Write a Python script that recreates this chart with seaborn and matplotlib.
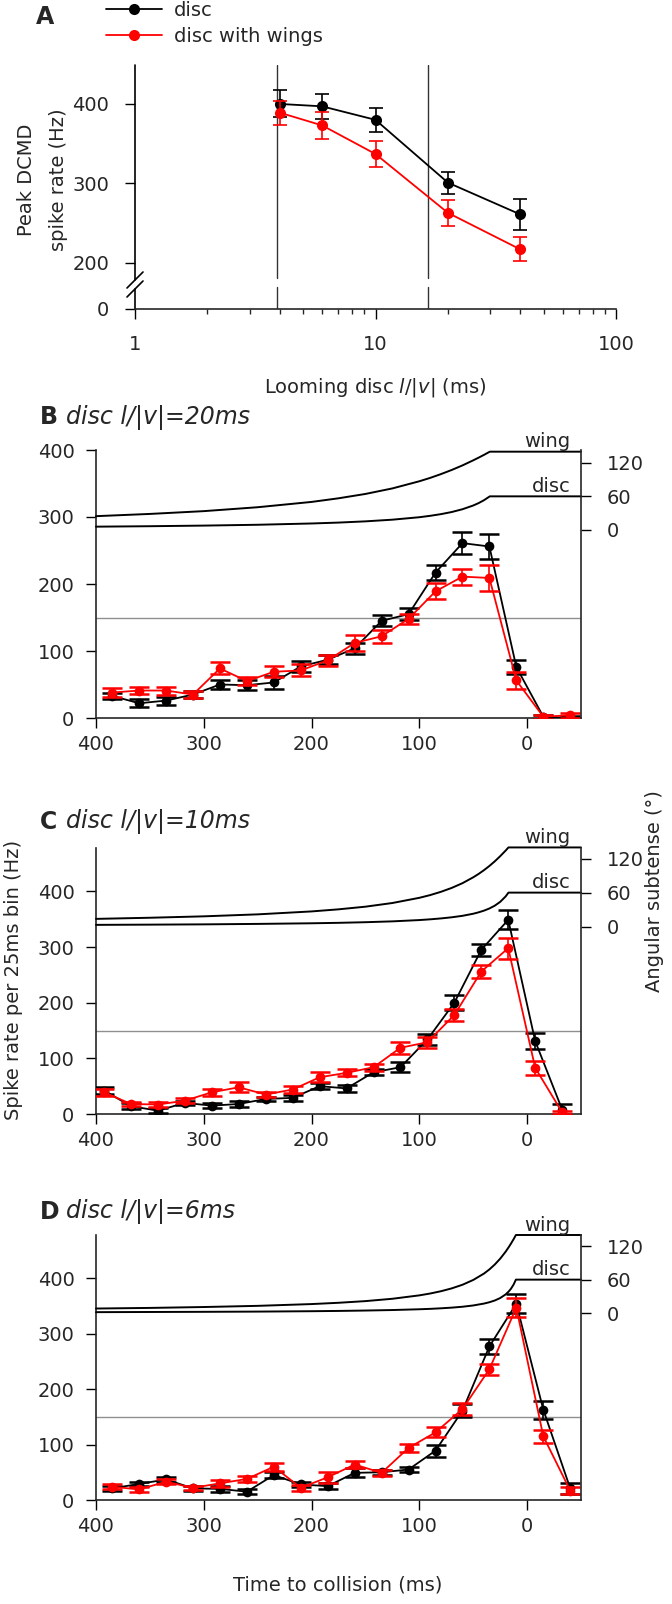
import numpy as np
import pandas as pd
import matplotlib
matplotlib.use("Agg")
import matplotlib.pyplot as plt
import seaborn as sns
from matplotlib.lines import Line2D
from matplotlib.ticker import LogLocator, NullFormatter

sns.set_style("ticks")
plt.rcParams["font.family"] = ["DejaVu Sans"]
plt.rcParams["mathtext.fontset"] = "dejavusans"

BLACK = "#000000"
RED = "#ff0000"

# ---------------- Panel A data ----------------
lv_ms = [4, 6, 10, 20, 40]
peak_disc = [400, 397, 380, 301, 261]
peak_disc_err = [17, 16, 15, 14, 20]
peak_wing = [389, 373, 337, 263, 217]
peak_wing_err = [15, 17, 16, 16, 15]
a_vlines = [3.9, 16.5]
a_yticks = [0, 200, 300, 400]

# ---------------- Panel B (l/|v| = 20 ms) ----------------
t_B = [385, 360, 335, 310, 285, 260, 235, 210, 185, 160, 135, 110, 85, 60, 35, 10, -15, -40]
disc_B = [33, 22, 26, 35, 50, 49, 53, 77, 87, 104, 145, 155, 217, 261, 256, 76, 2, 0]
disc_B_err = [5, 6, 6, 5, 7, 7, 9, 8, 7, 8, 8, 9, 11, 16, 19, 11, 3, 3]
wing_B = [38, 41, 41, 35, 74, 55, 69, 71, 86, 112, 122, 148, 189, 211, 209, 56, 2, 4]
wing_B_err = [7, 5, 6, 5, 9, 6, 8, 9, 8, 12, 10, 7, 12, 12, 20, 13, 3, 4]

# ---------------- Panel C (l/|v| = 10 ms) ----------------
t_C = [392.5, 367.5, 342.5, 317.5, 292.5, 267.5, 242.5, 217.5, 192.5, 167.5,
       142.5, 117.5, 92.5, 67.5, 42.5, 17.5, -7.5, -32.5]
disc_C = [42, 14, 6, 20, 15, 18, 27, 29, 50, 46, 75, 84, 134, 200, 295, 349, 131, 8]
disc_C_err = [6, 5, 5, 4, 4, 6, 4, 5, 5, 6, 5, 9, 10, 14, 11, 17, 14, 10]
wing_C = [39, 18, 17, 24, 39, 48, 35, 44, 66, 74, 84, 119, 129, 178, 256, 298, 83, 3]
wing_C_err = [6, 4, 5, 5, 6, 9, 5, 6, 9, 6, 6, 11, 10, 10, 12, 19, 13, 3]

# ---------------- Panel D (l/|v| = 6 ms) ----------------
t_D = [385, 360, 335, 310, 285, 260, 235, 210, 185, 160, 135, 110, 85, 60, 35, 10, -15, -40]
disc_D = [21, 29, 37, 21, 20, 15, 45, 28, 25, 49, 50, 55, 89, 161, 277, 354, 163, 21]
disc_D_err = [4, 3, 4, 4, 6, 5, 5, 4, 6, 8, 5, 4, 11, 12, 13, 17, 16, 10]
wing_D = [24, 19, 33, 22, 30, 38, 60, 22, 41, 64, 49, 94, 122, 164, 236, 347, 115, 17]
wing_D_err = [5, 5, 5, 4, 6, 6, 7, 5, 10, 6, 5, 7, 9, 11, 10, 17, 12, 7]

# ---------------- Angular subtense traces (deg) ----------------
ang_t_B = [400, 350, 300, 250, 200, 175, 150, 125, 100, 90, 80, 70, 60, 50, 45, 40, 34.6, -50]
ang_disc_B = [5.7, 6.5, 7.6, 9.1, 11.4, 13.0, 15.2, 18.2, 22.6, 25.1, 28.1, 31.9, 36.9, 43.6, 47.9, 53.1, 60, 60]
ang_wing_B = [24.5, 28.5, 33.5, 40.5, 50.0, 56.5, 64.3, 74.2, 87.0, 93.0, 99.8, 107.2, 115.4, 124.5, 129.3, 134.3, 140, 140]

ang_t_C = [400, 350, 300, 250, 200, 175, 150, 125, 100, 90, 80, 70, 60, 50, 45, 40, 35, 30, 25, 20, 17.3, -50]
ang_disc_C = [2.9, 3.3, 3.8, 4.6, 5.7, 6.5, 7.6, 9.1, 11.4, 12.7, 14.3, 16.3, 18.9, 22.6, 25.1, 28.1, 31.9, 36.9, 43.6, 53.1, 60, 60]
ang_wing_C = [13.5, 15.5, 18.0, 21.5, 26.7, 30.4, 35.1, 41.6, 50.8, 55.6, 61.4, 68.3, 76.7, 87.1, 93.1, 99.8, 107.2, 115.4, 124.5, 134.3, 140, 140]

ang_t_D = [400, 350, 300, 250, 200, 175, 150, 125, 100, 90, 80, 70, 60, 50, 40, 35, 30, 25, 20, 17, 15, 12.5, 10.4, -50]
ang_disc_D = [1.7, 2.0, 2.3, 2.7, 3.4, 3.9, 4.6, 5.5, 6.9, 7.6, 8.6, 9.8, 11.4, 13.7, 17.1, 19.5, 22.6, 27.0, 33.4, 38.9, 43.6, 51.3, 60, 60]
ang_wing_D = [8.2, 9.3, 10.9, 13.0, 16.2, 18.5, 21.5, 25.7, 31.8, 35.1, 39.2, 44.3, 50.8, 59.4, 70.9, 78.3, 87.1, 97.5, 109.9, 118.4, 124.5, 132.6, 140, 140]

x_ticks_time = [400, 300, 200, 100, 0]
ang_ticks = [0, 60, 120]
threshold = 150

# ---------------- figure ----------------
W, H = 672, 1604
fig = plt.figure(figsize=(W / 100, H / 100), dpi=100)


def rect(l, r, t, b):
    return [l / W, 1 - b / H, (r - l) / W, (b - t) / H]


TICK_FS = 14
LAB_FS = 14
TITLE_FS = 17


def style_ticks(ax, xpad=5, ypad=8):
    ax.tick_params(axis="both", which="major", length=7.5, width=1, labelsize=TICK_FS,
                   direction="out", color="black")
    ax.tick_params(axis="x", which="major", pad=xpad)
    ax.tick_params(axis="y", which="major", pad=ypad)
    ax.tick_params(axis="both", which="minor", length=3.5, width=1, direction="out")


def series(ax, t, y, err, color, z, ms, cap, capthick):
    ax.errorbar(t, y, yerr=err, fmt="none", ecolor=color, elinewidth=1.2,
                capsize=cap, capthick=capthick, zorder=z)
    sns.lineplot(x=t, y=y, ax=ax, color=color, marker="o", markersize=ms,
                 markeredgewidth=0, linewidth=1.3, zorder=z + 0.5, sort=False,
                 legend=False, errorbar=None)


# ---------- Panel A ----------
axA = fig.add_axes(rect(135, 616, 65, 309))


def fwd(y):
    y = np.asarray(y, dtype=float)
    return np.where(y >= 200, y, 200 - (200 - y) * 0.29)


def inv(p):
    p = np.asarray(p, dtype=float)
    return np.where(p >= 200, p, 200 - (200 - p) / 0.29)


axA.set_yscale("function", functions=(fwd, inv))
axA.set_xscale("log")
series(axA, lv_ms, peak_disc, peak_disc_err, BLACK, 3, 8, 4.7, 1.2)
series(axA, lv_ms, peak_wing, peak_wing_err, RED, 4, 8, 4.7, 1.2)
axA.set_xlim(1, 100)
axA.set_ylim(0, 449)
axA.set_yticks(a_yticks)
axA.set_yticklabels([str(v) for v in a_yticks])
axA.set_xticks([1, 10, 100])
axA.set_xticklabels(["1", "10", "100"])
axA.xaxis.set_minor_locator(LogLocator(base=10, subs=np.arange(2, 10)))
axA.xaxis.set_minor_formatter(NullFormatter())
style_ticks(axA, xpad=11, ypad=11)
for s in ["top", "right", "left"]:
    axA.spines[s].set_visible(False)
axA.spines["bottom"].set_linewidth(1.2)


def fy(ypx):
    return (309 - ypx) / 244


# broken left spine
axA.plot([0, 0], [0, fy(289)], transform=axA.transAxes, color="black", lw=1.2, clip_on=False)
axA.plot([0, 0], [fy(280), 1], transform=axA.transAxes, color="black", lw=1.2, clip_on=False)
dx = 8 / 481
for yc in (289, 280):
    axA.plot([-dx, dx], [fy(yc + 8), fy(yc - 8)], transform=axA.transAxes,
             color="black", lw=1.2, clip_on=False)
# vertical reference lines
for xv in a_vlines:
    axA.axvline(xv, ymin=0, ymax=fy(287), color="#333333", lw=1, zorder=1)
    axA.axvline(xv, ymin=fy(278), ymax=1, color="#333333", lw=1, zorder=1)

axA.set_xlabel(r"Looming disc $\mathit{l}$/|$\mathit{v}$| (ms)", fontsize=LAB_FS, labelpad=16)
axA.set_ylabel("")
fig.text(27 / W, 1 - 180 / H, "Peak DCMD", rotation=90, ha="center", va="center", fontsize=LAB_FS)
fig.text(59 / W, 1 - 180 / H, "spike rate (Hz)", rotation=90, ha="center", va="center", fontsize=LAB_FS)
fig.text(45 / W, 1 - 17 / H, "A", fontsize=TITLE_FS, fontweight="bold", ha="center", va="center")

handles = [
    Line2D([], [], color=BLACK, marker="o", markersize=8, markeredgewidth=0, lw=1.3),
    Line2D([], [], color=RED, marker="o", markersize=8, markeredgewidth=0, lw=1.3),
]
fig.legend(handles, ["disc", "disc with wings"], loc="upper left",
           bbox_to_anchor=(106 / W, 1 - 1 / H), frameon=False, fontsize=LAB_FS,
           handlelength=2.9, handletextpad=0.6, labelspacing=0.35,
           borderpad=0, borderaxespad=0)


# ---------- Panels B, C, D ----------
def panel(top, bottom, ymax, t, d, de, w, we, at, ad, aw, alim, letter, ttl, ty):
    ax = fig.add_axes(rect(96, 581, top, bottom))
    ax.axhline(threshold, color="#8f8f8f", lw=1, zorder=1)
    series(ax, t, d, de, BLACK, 3, 7, 7, 1.8)
    series(ax, t, w, we, RED, 4, 7, 7, 1.8)
    ax.set_xlim(400, -50)
    ax.set_ylim(0, ymax)
    ax.set_xticks(x_ticks_time)
    ax.set_xticklabels([str(v) for v in x_ticks_time])
    ax.set_yticks([0, 100, 200, 300, 400])
    style_ticks(ax, xpad=5, ypad=8)
    ax.set_xlabel("")
    ax.set_ylabel("")
    for s in ["top", "right"]:
        ax.spines[s].set_visible(False)
    for s in ["left", "bottom"]:
        ax.spines[s].set_linewidth(1.2)

    ax2 = ax.twinx()
    sns.lineplot(x=at, y=ad, ax=ax2, color="black", lw=1.4, sort=False, errorbar=None, clip_on=False)
    sns.lineplot(x=at, y=aw, ax=ax2, color="black", lw=1.4, sort=False, errorbar=None, clip_on=False)
    ax2.set_ylim(*alim)
    ax2.set_yticks(ang_ticks)
    ax2.set_yticklabels([str(v) for v in ang_ticks])
    ax2.set_ylabel("")
    style_ticks(ax2, ypad=11)
    for s in ["top", "left", "bottom"]:
        ax2.spines[s].set_visible(False)
    ax2.spines["right"].set_linewidth(1.2)
    ax2.text(-40, 140.5, "wing", ha="right", va="bottom", fontsize=TICK_FS)
    ax2.text(-40, 61, "disc", ha="right", va="bottom", fontsize=TICK_FS)

    fig.text(40 / W, 1 - ty / H, letter, fontsize=TITLE_FS, fontweight="bold", ha="left", va="center")
    fig.text(66 / W, 1 - ty / H, ttl, fontsize=TITLE_FS, fontstyle="italic", ha="left", va="center")
    return ax


panel(450, 718, 400, t_B, disc_B, disc_B_err, wing_B, wing_B_err,
      ang_t_B, ang_disc_B, ang_wing_B, (-337, 143), "B", "disc l/|v|=20ms", 417)
panel(848, 1114, 478, t_C, disc_C, disc_C_err, wing_C, wing_C_err,
      ang_t_C, ang_disc_C, ang_wing_C, (-332, 139), "C", "disc l/|v|=10ms", 822)
panel(1235, 1500, 478, t_D, disc_D, disc_D_err, wing_D, wing_D_err,
      ang_t_D, ang_disc_D, ang_wing_D, (-335, 140), "D", "disc l/|v|=6ms", 1212)

fig.text(14 / W, 1 - 980 / H, "Spike rate per 25ms bin (Hz)", rotation=90,
         ha="center", va="center", fontsize=LAB_FS)
fig.text(655 / W, 1 - 891 / H, "Angular subtense (°)", rotation=90,
         ha="center", va="center", fontsize=LAB_FS)
fig.text(338 / W, 1 - 1585 / H, "Time to collision (ms)", ha="center", va="center", fontsize=LAB_FS)

fig.savefig("out.png", dpi=100)
